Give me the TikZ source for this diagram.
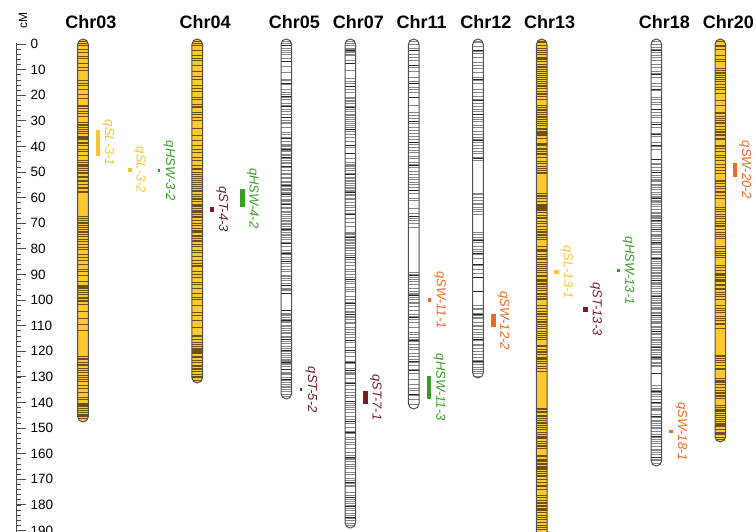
\documentclass[tikz,border=0pt]{standalone}
\usepackage{fontspec}
\setmainfont{Liberation Sans}

\definecolor{chryel}{RGB}{255,200,44}
\definecolor{chrband}{RGB}{105,82,24}
\definecolor{chredge}{RGB}{80,80,80}
\definecolor{wband}{RGB}{135,135,135}
\definecolor{qsl}{RGB}{250,196,58}
\definecolor{qhsw}{RGB}{58,158,38}
\definecolor{qst}{RGB}{122,28,36}
\definecolor{qsw}{RGB}{242,106,38}

\tikzset{
  chrtitle/.style={font=\bfseries\fontsize{18}{18}\selectfont, inner sep=0pt},
  qtllabel/.style={font=\itshape\fontsize{13}{13}\selectfont, rotate=-90, inner sep=0pt},
  scalenum/.style={font=\fontsize{13.5}{13.5}\selectfont, anchor=west, inner sep=0pt},
  ybandline/.style={draw=chrband, line width=0.6pt},
  wbandline/.style={draw=wband, line width=0.6pt},
  kbandline/.style={draw=black!85, line width=0.6pt},
  chroutline/.style={draw=chredge, line width=1pt},
  ruler/.style={draw=black!70, line width=0.8pt},
}

% marker bands: lines from y=#2 to y=#3 with a jittered mean step #4
\newcommand\bandrun[5]{%
  \pgfmathsetmacro\bandY{#2}%
  \loop
    \draw[#5] (#1-6,\bandY) -- (#1+6,\bandY);
    \pgfmathsetmacro\bandY{\bandY+#4*(0.45+1.1*rnd)}%
  \ifdim\bandY pt<#3pt\repeat}
\newcommand\yb[3]{\bandrun{\curx}{#1}{#2}{#3}{ybandline}}
\newcommand\wb[3]{\bandrun{\curx}{#1}{#2}{#3}{wbandline}}
\newcommand\kb[3]{\bandrun{\curx}{#1}{#2}{#3}{kbandline}}

% linkage group: #1 name, #2 centre x, #3 bottom y, #4 fill, #5 bands
\newcommand\linkgroup[5]{%
  \def\curx{#2}%
  \path[fill=#4, rounded corners=5.3pt] (#2-5.3,39) rectangle (#2+5.3,#3);
  \begin{scope}
    \clip[rounded corners=5.3pt] (#2-5.3,39) rectangle (#2+5.3,#3);
    #5
  \end{scope}
  \draw[chroutline, rounded corners=5.3pt] (#2-5.3,39) rectangle (#2+5.3,#3);
  \coordinate (#1) at (#2,39);
  \node[chrtitle] (title#1) at (#2+8,22) {#1};
}

% QTL: #1 name, #2 colour, #3 x, #4 top y, #5 bottom y, #6 bar width, #7 label
\newcommand\qtl[7]{%
  \fill[#2] (#3-#6/2,#4) rectangle (#3+#6/2,#5);
  \node[qtllabel, text=#2] (#1) at ({#3+10.3},{(#4+#5)/2}) {#7};
}

\begin{document}
\begin{tikzpicture}[x=1pt, y=-1pt]
\useasboundingbox (0,0) rectangle (756,532);
\clip (0,0) rectangle (756,532);
\pgfmathsetseed{2718}

% cM ruler
\draw[ruler] (16,43.5) -- (16,540);
\foreach \c in {0,2,...,196}
  \draw[ruler, line width=0.6pt] (16,{44+2.56*\c}) -- (21,{44+2.56*\c});
\foreach \c in {0,10,...,190}{
  \draw[ruler] (16,{44+2.56*\c}) -- (26,{44+2.56*\c});
  \node[scalenum] (cm\c) at (30.5,{44+2.56*\c}) {\c};
}
\node[font=\fontsize{12}{12}\selectfont, rotate=90, inner sep=0pt] (unit) at (23,20.5) {cM};

% linkage groups
\linkgroup{Chr03}{83}{422}{chryel}{%
  \yb{41}{52}{3}\yb{56}{68}{3.5}\yb{70}{78}{6}\yb{80}{100}{3}\yb{105}{117}{2.5}%
  \yb{122}{146}{1.8}\yb{149}{158}{3.5}\yb{160}{193}{1.9}\yb{216}{242}{2}%
  \yb{244}{282}{4}\yb{285}{302}{1.8}\yb{304}{334}{5}\yb{356}{370}{1.8}%
  \yb{372}{402}{3}\yb{403}{420}{1.8}}
\linkgroup{Chr04}{197.2}{383}{chryel}{%
  \yb{41}{95}{4}\yb{97}{118}{3}\yb{120}{133}{6}\yb{135}{168}{3.5}%
  \yb{168}{202}{1.9}\yb{204}{242}{2}\yb{244}{275}{3}\yb{277}{308}{4}%
  \yb{312}{330}{7}\yb{335}{381}{1.9}}
\linkgroup{Chr05}{286.3}{399}{white}{%
  \wb{41}{55}{1.8}\wb{58}{80}{6}\wb{80}{95}{3.5}\wb{97}{145}{3}%
  \wb{145}{240}{1.8}\wb{242}{265}{3}\wb{266}{292}{2.2}\wb{313}{397}{2}%
  \kb{45}{395}{16}}
\linkgroup{Chr07}{350.3}{528}{white}{%
  \wb{41}{56}{2}\wb{60}{75}{8}\wb{78}{95}{4}\wb{97}{135}{2}\wb{137}{160}{4}%
  \wb{162}{200}{2}\wb{202}{230}{3.5}\wb{232}{260}{2.2}\wb{262}{300}{3}%
  \wb{302}{335}{2.5}\wb{337}{370}{3.5}\wb{372}{410}{2.5}\wb{412}{450}{3}%
  \wb{452}{490}{2.5}\wb{492}{526}{2.2}\kb{50}{520}{18}}
\linkgroup{Chr11}{413.7}{409}{white}{%
  \wb{41}{58}{3}\wb{60}{75}{6}\wb{77}{95}{3}\wb{97}{110}{6}\wb{112}{140}{2.5}%
  \wb{142}{160}{4}\wb{162}{195}{2.5}\wb{198}{215}{5}\wb{218}{230}{3}%
  \wb{272}{300}{2.5}\wb{302}{330}{3}\wb{332}{360}{2.5}\wb{362}{405}{4}%
  \kb{50}{228}{18}\kb{275}{400}{16}}
\linkgroup{Chr12}{478}{378}{white}{%
  \wb{41}{60}{3}\wb{62}{90}{4}\wb{92}{115}{3}\wb{117}{140}{2.5}\wb{142}{165}{3}%
  \wb{193}{215}{2.2}\wb{232}{262}{3}\wb{265}{275}{5}\wb{305}{335}{2.5}%
  \wb{337}{376}{2.5}\kb{50}{160}{20}\kb{240}{370}{20}}
\linkgroup{Chr13}{541.7}{545}{chryel}{%
  \yb{41}{100}{2}\yb{105}{140}{2}\yb{143}{175}{2.2}\yb{193}{240}{1.9}%
  \yb{246}{300}{2}\yb{305}{340}{2.2}\yb{345}{372}{2}\yb{408}{450}{1.8}%
  \yb{455}{490}{2}\yb{495}{545}{2}}
\linkgroup{Chr18}{656.3}{466}{white}{%
  \wb{41}{75}{3}\wb{77}{95}{5}\wb{97}{120}{3}\wb{122}{150}{4}%
  \wb{163}{368}{1.9}\wb{385}{464}{2.3}\kb{50}{460}{17}}
\linkgroup{Chr20}{720.3}{442}{chryel}{%
  \yb{41}{50}{2.5}\yb{55}{63}{3}\yb{68}{95}{2.5}\yb{100}{108}{4}%
  \yb{112}{140}{2}\yb{145}{175}{2.5}\yb{180}{200}{2}\yb{207}{240}{2}%
  \yb{246}{260}{2.5}\yb{265}{300}{2}\yb{305}{330}{2.5}\yb{355}{370}{2}%
  \yb{378}{400}{2}\yb{405}{440}{1.9}}

% QTL intervals
\qtl{qSL31}{qsl}{98}{130}{156}{4.5}{qSL-3-1}
\qtl{qSL32}{qsl}{129.5}{168}{172}{4}{qSL-3-2}
\qtl{qHSW32}{qhsw}{159}{169.5}{172.5}{2.8}{qHSW-3-2}
\qtl{qST43}{qst}{212}{206.7}{211.7}{4}{qST-4-3}
\qtl{qHSW42}{qhsw}{242.5}{189.3}{207.3}{4.8}{qHSW-4-2}
\qtl{qST52}{qst}{301}{388.3}{391.3}{2.8}{qST-5-2}
\qtl{qST71}{qst}{365.5}{391}{404}{5}{qST-7-1}
\qtl{qSW111}{qsw}{429.7}{298.3}{301.7}{3.2}{qSW-11-1}
\qtl{qHSW113}{qhsw}{429.2}{375.7}{399}{4.5}{qHSW-11-3}
\qtl{qSW122}{qsw}{493.3}{314.3}{327.3}{4.7}{qSW-12-2}
\qtl{qSL131}{qsl}{556.7}{270}{274.3}{4.5}{qSL-13-1}
\qtl{qST133}{qst}{585.8}{306.7}{311.7}{4.8}{qST-13-3}
\qtl{qHSW131}{qhsw}{618.3}{269.3}{272.3}{3.2}{qHSW-13-1}
\qtl{qSW181}{qsw}{671}{430}{433.3}{3.2}{qSW-18-1}
\qtl{qSW202}{qsw}{735}{163.3}{176.7}{4.6}{qSW-20-2}
\end{tikzpicture}
\end{document}
